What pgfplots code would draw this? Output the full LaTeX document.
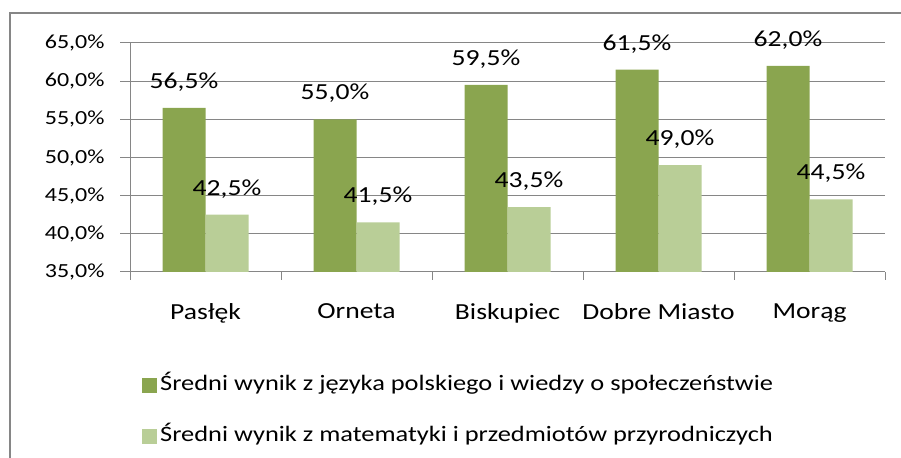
\documentclass[border=0pt]{standalone}
\usepackage{fontspec}
\setmainfont[FakeStretch=1.2]{Carlito}
\usepackage{pgfplots}
\pgfplotsset{compat=1.18}
\definecolor{darkolive}{HTML}{8AA54F}
\definecolor{lightolive}{HTML}{B9CE97}
\definecolor{gridgray}{HTML}{868686}

\newcommand{\pct}[1]{\pgfmathprintnumber[fixed,fixed zerofill,precision=1,use comma]{#1}\%}

\begin{document}
\begin{tikzpicture}[x=1bp,y=1bp]
\path[use as bounding box] (0,0) rectangle (901,458);
\clip (0,0) rectangle (901,458);
\draw[gridgray, line width=1.5bp] (10,445) rectangle (940,-40);
\begin{axis}[
    at={(130bp,186bp)}, anchor=south west,
    scale only axis, width=755bp, height=229bp,
    ybar=0pt, bar width=43bp,
    ymin=35, ymax=65, ytick={35,40,...,65},
    xmin=-0.5, xmax=4.5,
    xtick={0,...,4},
    xticklabels={Pasłęk,Orneta,Biskupiec,Dobre Miasto,Morąg},
    minor xtick={-0.5,0.5,...,4.5},
    major x tick style={draw=none},
    tick align=outside, major tick length=10bp, minor tick length=8bp,
    axis x line*=bottom, axis y line*=left,
    axis line style={gridgray, line width=1bp},
    every tick/.style={gridgray, line width=1bp},
    ymajorgrids, major grid style={gridgray, line width=1bp},
    /pgf/number format/assume math mode=true,
    yticklabel={\pct{\tick}},
    yticklabel style={font=\fontsize{20bp}{24bp}\selectfont, xshift=-12bp},
    xticklabel style={font=\fontsize{23bp}{27bp}\selectfont, yshift=-18bp},
    nodes near coords={\pct{\pgfplotspointmeta}},
    every node near coord/.append style={font=\fontsize{23bp}{27bp}\selectfont, anchor=center, yshift=26bp, text=black},
    legend style={at={(axis description cs:0.0159,-0.44)}, anchor=north west,
        draw=none, fill=none, font=\fontsize{22bp}{26bp}\selectfont,
        row sep=26bp, inner sep=0pt,
        nodes={inner sep=3bp, text height=15bp, text depth=4bp}},
    legend cell align=left,
    legend image code/.code={\fill[#1] (0bp,-7.5bp) rectangle (15bp,7.5bp);},
    every legend entry/.append style={xshift=4bp},
]
\addplot[fill=darkolive, draw=none] coordinates {(0,56.5) (1,55.0) (2,59.5) (3,61.5) (4,62.0)};
\addplot[fill=lightolive, draw=none] coordinates {(0,42.5) (1,41.5) (2,43.5) (3,49.0) (4,44.5)};
\legend{Średni wynik z języka polskiego i wiedzy o społeczeństwie,
        Średni wynik z matematyki i przedmiotów przyrodniczych}
\end{axis}
\end{tikzpicture}
\end{document}
